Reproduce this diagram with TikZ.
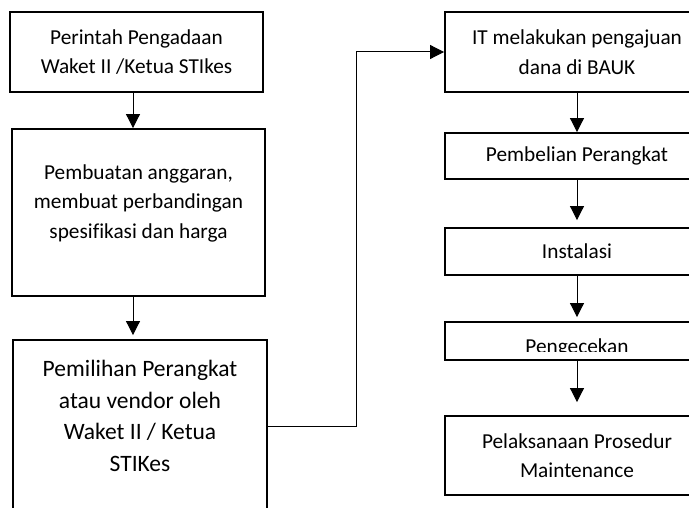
\documentclass[tikz,border=0pt]{standalone}
\usepackage{fontspec}
\setmainfont{Carlito}[Ligatures=NoCommon]
\usetikzlibrary{arrows.meta}

\begin{document}
\begin{tikzpicture}[x=1pt,y=-1pt,
    box/.style={draw,line width=1.9pt,inner sep=0pt,align=center,
      font=\fontsize{21.3}{29.5}\selectfont},
    txt/.style={inner sep=0pt,align=center,font=\fontsize{21.3}{29.5}\selectfont},
    flow/.style={line width=1pt,-{Triangle[width=14pt,length=14pt]}}]
    \clip (0,0) rectangle (689,508);
    %% Draw the left column
    \node[box,minimum width=253pt,minimum height=80pt] (Perintah) at (136.5,52)
      {Perintah Pengadaan\\Waket II /Ketua STIkes};
    \node[box,minimum width=253pt,minimum height=167pt] (Anggaran) at (138.5,212.5) {};
    \node[box,minimum width=254pt,minimum height=172pt] (Pemilihan) at (140,426) {};
    \node[txt] (AnggaranText) at (138.5,203)
      {Pembuatan anggaran,\\membuat perbandingan\\spesifikasi dan harga};
    \node[txt,font=\fontsize{23.5}{31.7}\selectfont] (PemilihanText) at (140,416)
      {Pemilihan Perangkat\\atau vendor oleh\\Waket II / Ketua\\STIKes};
    %% Draw the right column
    \node[box,minimum width=264pt,minimum height=80pt] (Pengajuan) at (577,52)
      {IT melakukan pengajuan\\dana di BAUK};
    \node[box,minimum width=264pt,minimum height=46pt] (Pembelian) at (577,156)
      {Pembelian Perangkat};
    \node[box,minimum width=264pt,minimum height=47pt] (Instalasi) at (577,251.5)
      {Instalasi};
    \node[box,minimum width=264pt,minimum height=38pt] (Pengecekan) at (577,341) {};
    \begin{scope}
      \clip (440,322) rectangle (715,351);
      \node[txt,anchor=base] (PengecekanText) at (577,353.5) {Pengecekan};
    \end{scope}
    \node[box,minimum width=264pt,minimum height=79pt] (Maintenance) at (577,455.5)
      {Pelaksanaan Prosedur\\Maintenance};
    %% Draw the edges
    \begin{scope}[every path/.style={flow}]
      \draw ([xshift=-3.5pt]Perintah.south) -- ([xshift=-3.5pt]Perintah.south |- Anggaran.north);
      \draw[shorten >=4pt] ([xshift=-5.5pt]Anggaran.south) -- ([xshift=-5.5pt]Anggaran.south |- Pemilihan.north);
      \draw (Pemilihan.east) -- ++(89,0) |- (Pengajuan.west);
      \draw (Pengajuan) -- (Pembelian);
      \draw[shorten >=7pt] (Pembelian) -- (Instalasi);
      \draw[shorten >=4pt] (Instalasi) -- (Pengecekan);
      \draw[shorten >=13pt] (Pengecekan) -- (Maintenance);
    \end{scope}
\end{tikzpicture}
\end{document}
